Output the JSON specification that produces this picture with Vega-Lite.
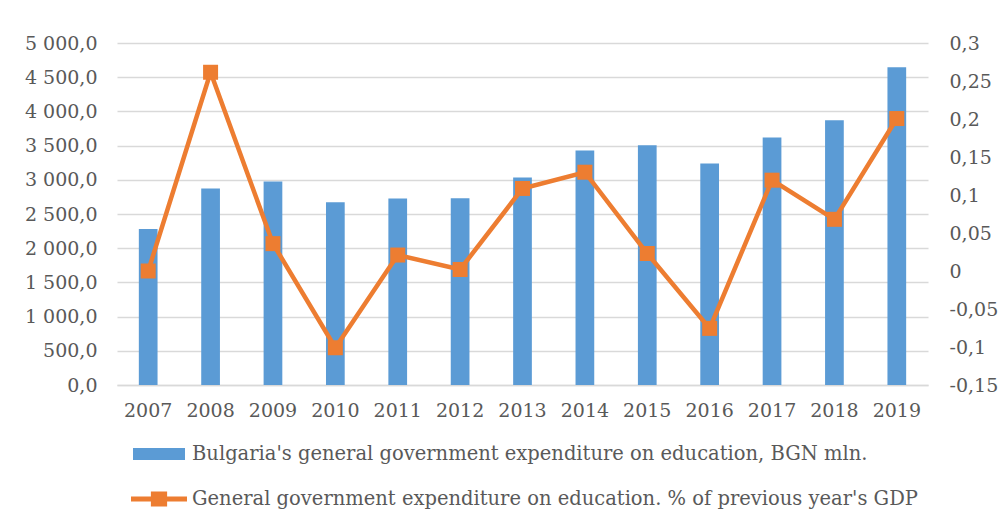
{
  "$schema": "https://vega.github.io/schema/vega-lite/v6.json",
  "width": 811,
  "height": 342,
  "autosize": {"type": "none"},
  "padding": {"left": 117, "top": 43, "right": 76, "bottom": 146},
  "background": "white",
  "config": {
    "view": {"stroke": null},
    "locale": {"number": {"decimal": ",", "thousands": " ", "grouping": [3], "currency": ["", ""], "minus": "-"}},
    "axis": {"labelFont": "DejaVu Serif", "labelFontSize": 19, "labelColor": "#595959", "ticks": false, "domain": false, "grid": false},
    "legend": {"labelFont": "DejaVu Serif"}
  },
  "data": {
    "values": [
      {"year": "2007", "exp": 2279, "pct": 0.000},
      {"year": "2008", "exp": 2873, "pct": 0.2615},
      {"year": "2009", "exp": 2975, "pct": 0.036},
      {"year": "2010", "exp": 2673, "pct": -0.101},
      {"year": "2011", "exp": 2727, "pct": 0.021},
      {"year": "2012", "exp": 2731, "pct": 0.002},
      {"year": "2013", "exp": 3033, "pct": 0.1086},
      {"year": "2014", "exp": 3428, "pct": 0.130},
      {"year": "2015", "exp": 3506, "pct": 0.023},
      {"year": "2016", "exp": 3238, "pct": -0.0755},
      {"year": "2017", "exp": 3618, "pct": 0.1195},
      {"year": "2018", "exp": 3871, "pct": 0.068},
      {"year": "2019", "exp": 4645, "pct": 0.2006}
    ]
  },
  "encoding": {
    "x": {
      "field": "year", "type": "ordinal",
      "scale": {"paddingInner": 0.7, "paddingOuter": 0.35},
      "axis": {"title": null, "labelAngle": 0, "labelPadding": 16, "domain": true, "domainColor": "#D9D9D9", "domainWidth": 1.5, "labelFont": "DejaVu Serif"}
    }
  },
  "layer": [
    {
      "mark": {"type": "bar"},
      "encoding": {
        "y": {
          "field": "exp", "type": "quantitative",
          "scale": {"domain": [0, 5000], "nice": false},
          "axis": {"title": null, "orient": "left", "values": [0, 500, 1000, 1500, 2000, 2500, 3000, 3500, 4000, 4500, 5000], "format": ",.1f", "labelPadding": 20, "grid": true, "gridColor": "#D9D9D9", "gridWidth": 1.5, "labelFont": "DejaVu Serif"}
        },
        "fill": {
          "datum": "Bulgaria's general government expenditure on education, BGN mln.",
          "type": "nominal",
          "scale": {"range": ["#5B9BD5"]},
          "legend": {
            "title": null, "orient": "none", "legendX": 16, "legendY": 385, "padding": 0,
            "symbolType": "M-1,-0.23H1V0.23H-1Z", "symbolSize": 2704, "symbolStrokeWidth": 0,
            "labelFont": "DejaVu Serif", "labelFontSize": 19.5, "labelColor": "#595959", "labelOffset": 7, "labelLimit": 900
          }
        }
      }
    },
    {
      "layer": [
        {
          "mark": {"type": "line", "strokeWidth": 4.5},
          "encoding": {
            "y": {"field": "pct", "type": "quantitative"},
            "stroke": {
              "datum": "General government expenditure on education. % of previous year's GDP",
              "type": "nominal",
              "scale": {"range": ["#ED7D31"]},
              "legend": {
                "title": null, "orient": "none", "legendX": 14, "legendY": 428, "padding": 0,
                "symbolType": "M-1,-0.09H1V0.09H-1Z M-0.29,-0.27H0.29V0.27H-0.29Z", "symbolSize": 3136,
                "symbolStrokeWidth": 0, "symbolFillColor": "#ED7D31",
                "labelFont": "DejaVu Serif", "labelFontSize": 19.5, "labelColor": "#595959", "labelOffset": 5, "labelLimit": 900,
                "encode": {"symbols": {"update": {"fill": {"value": "#ED7D31"}, "strokeWidth": {"value": 0}}}}
              }
            }
          }
        },
        {
          "mark": {"type": "point", "shape": "square", "filled": true, "size": 225, "color": "#ED7D31", "opacity": 1},
          "encoding": {
            "y": {"field": "pct", "type": "quantitative"}
          }
        }
      ],
      "resolve": {"scale": {"y": "shared"}},
      "encoding": {
        "y": {
          "field": "pct", "type": "quantitative",
          "scale": {"domain": [-0.15, 0.3], "nice": false},
          "axis": {"title": null, "orient": "right", "values": [-0.15, -0.1, -0.05, 0, 0.05, 0.1, 0.15, 0.2, 0.25, 0.3], "format": ".2~f", "labelPadding": 21, "labelFont": "DejaVu Serif"}
        }
      }
    }
  ],
  "resolve": {"scale": {"y": "independent"}}
}
